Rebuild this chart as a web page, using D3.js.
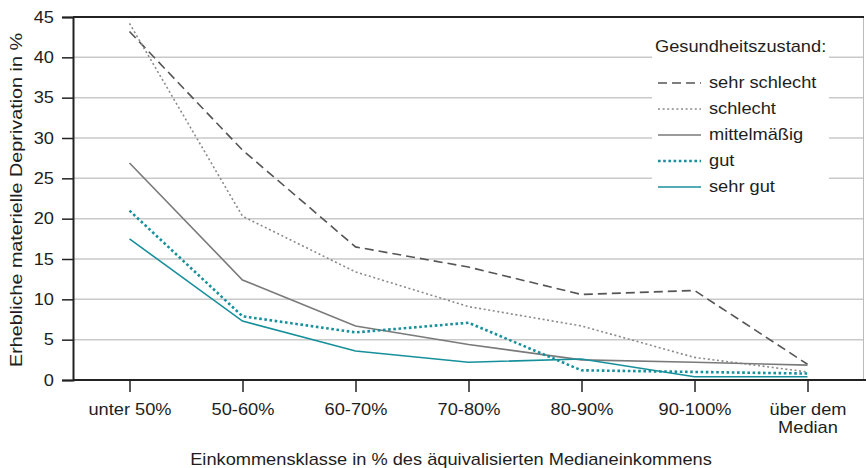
<!DOCTYPE html>
<html>
<head>
<meta charset="utf-8">
<script src="https://cdn.jsdelivr.net/npm/d3@7"></script>
<style>
  body { margin: 0; background: #fff; }
  text { font-family: "Liberation Sans", Arial, sans-serif; fill: #1e1e1e; }
</style>
</head>
<body>
<div id="chart"></div>
<script>
// Werte
const CATEGORIES = ["unter 50%", "50-60%", "60-70%", "70-80%", "80-90%", "90-100%", "über dem|Median"];
const Y_TICKS = [0, 5, 10, 15, 20, 25, 30, 35, 40, 45];
const SERIES_NAMES = ["sehr schlecht", "schlecht", "mittelmäßig", "gut", "sehr gut"];
const sehrSchlecht = [43.2, 28.5, 16.5, 14.0, 10.6, 11.1, 1.95];
const schlecht = [44.2, 20.3, 13.4, 9.1, 6.7, 2.8, 1.0];
const mittelmaessig = [26.9, 12.4, 6.7, 4.4, 2.5, 2.2, 1.85];
const gut = [21.0, 7.9, 5.9, 7.1, 1.2, 1.0, 0.8];
const sehrGut = [17.5, 7.3, 3.6, 2.2, 2.6, 0.4, 0.4];

const width = 866, height = 468;
const margin = { left: 73, right: 2, top: 17, bottom: 88 };
const FS = 16;
const SX = 1.14; // Schrift ist im Original etwas breiter

const styles = [
    { color: "#555", width: 1.6, dash: "9,5" },
    { color: "#8a8a8a", width: 1.6, dash: "2,2.6" },
    { color: "#7a7a7a", width: 1.6, dash: null },
    { color: "#17909c", width: 2.6, dash: "2.6,2.6" },
    { color: "#17909c", width: 1.6, dash: null }
];

const svg = d3.select("#chart").append("svg")
    .attr("width", width)
    .attr("height", height);

const x = d3.scalePoint()
    .domain(CATEGORIES)
    .range([margin.left, 864])
    .padding(0.5);

const y = d3.scaleLinear()
    .domain([0, 45])
    .range([height - margin.bottom, margin.top]);

// Gitterlinien
Y_TICKS.filter(t => t > 0 && t < 45).forEach(t => {
    svg.append("line")
        .attr("x1", margin.left).attr("x2", 864)
        .attr("y1", y(t)).attr("y2", y(t))
        .attr("stroke", "#c9c9c9")
        .attr("stroke-width", 1.5);
});

// rechter Rand
svg.append("line")
    .attr("x1", 863.5).attr("x2", 863.5)
    .attr("y1", y(45)).attr("y2", y(0))
    .attr("stroke", "#bbb")
    .attr("stroke-width", 1);

// obere Linie
svg.append("line")
    .attr("x1", margin.left).attr("x2", 864)
    .attr("y1", y(45)).attr("y2", y(45))
    .attr("stroke", "#222")
    .attr("stroke-width", 2);

// Y-Achse
const yAxis = svg.append("g")
    .attr("transform", "translate(" + margin.left + ",0)")
    .call(d3.axisLeft(y).tickValues(Y_TICKS).tickSize(11).tickPadding(0));
yAxis.select(".domain").attr("stroke", "#222").attr("stroke-width", 2);
yAxis.selectAll(".tick line").attr("stroke", "#222").attr("stroke-width", 1.5);
yAxis.selectAll(".tick text")
    .attr("x", -19 / SX)
    .attr("font-size", FS)
    .attr("transform", "scale(" + SX + ",1)");

// X-Achse
const xAxis = svg.append("g")
    .attr("transform", "translate(0," + y(0) + ")")
    .call(d3.axisBottom(x).tickSize(12).tickSizeOuter(0));
xAxis.select(".domain").attr("stroke", "#222").attr("stroke-width", 2)
    .attr("d", "M" + margin.left + ",0H" + width);
xAxis.selectAll(".tick line").attr("stroke", "#222").attr("stroke-width", 1.5);
xAxis.selectAll(".tick text").each(function (d) {
    const t = d3.select(this);
    const parts = d.split("|");
    t.text(null)
        .attr("font-size", FS)
        .attr("y", 0)
        .attr("dy", null)
        .attr("transform", "scale(" + SX + ",1)");
    parts.forEach((p, i) => {
        t.append("tspan").attr("x", 0).attr("y", 35 + i * 18).text(p);
    });
});

// Linien
const line = d3.line()
    .x((d, i) => x(CATEGORIES[i]))
    .y(d => y(d));

const allSeries = [sehrSchlecht, schlecht, mittelmaessig, gut, sehrGut];
allSeries.forEach((s, i) => {
    svg.append("path")
        .datum(s)
        .attr("d", line)
        .attr("fill", "none")
        .attr("stroke", styles[i].color)
        .attr("stroke-width", styles[i].width)
        .attr("stroke-dasharray", styles[i].dash);
});

// Legende
const legend = svg.append("g");
legend.append("rect")
    .attr("x", 652).attr("y", 30)
    .attr("width", 177).attr("height", 175)
    .attr("fill", "#fff");
legend.append("text")
    .attr("transform", "translate(655,52) scale(" + SX + ",1)")
    .attr("font-size", FS)
    .text("Gesundheitszustand:");
SERIES_NAMES.forEach((name, i) => {
    const yy = 88 + i * 26;
    legend.append("line")
        .attr("x1", 658).attr("x2", 701)
        .attr("y1", yy - 5).attr("y2", yy - 5)
        .attr("stroke", styles[i].color)
        .attr("stroke-width", styles[i].width)
        .attr("stroke-dasharray", styles[i].dash);
    legend.append("text")
        .attr("transform", "translate(709," + yy + ") scale(" + SX + ",1)")
        .attr("font-size", FS)
        .text(name);
});

// Achsentitel
svg.append("text")
    .attr("transform", "translate(451,465) scale(" + SX + ",1)")
    .attr("text-anchor", "middle")
    .attr("font-size", FS)
    .text("Einkommensklasse in % des äquivalisierten Medianeinkommens");

svg.append("text")
    .attr("transform", "translate(22,200) rotate(-90)")
    .attr("text-anchor", "middle")
    .attr("font-size", 17)
    .attr("textLength", 334)
    .attr("lengthAdjust", "spacingAndGlyphs")
    .text("Erhebliche materielle Deprivation in %");
</script>
</body>
</html>
